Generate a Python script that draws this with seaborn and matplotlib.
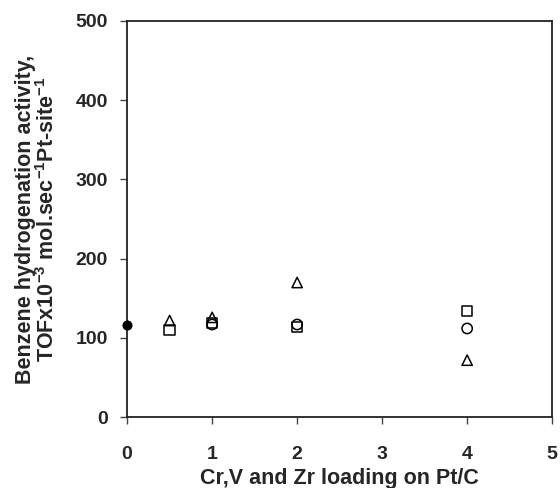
import matplotlib
matplotlib.use("Agg")
import matplotlib.pyplot as plt
import seaborn as sns
import pandas as pd

sns.set_style("ticks")
plt.rcParams['font.family'] = ['Liberation Sans', 'DejaVu Sans']
plt.rcParams['font.weight'] = 'bold'
plt.rcParams['mathtext.fontset'] = 'custom'
plt.rcParams['mathtext.rm'] = 'Liberation Sans:bold'
plt.rcParams['mathtext.default'] = 'rm'

# Data
ref_x = [0]
ref_y = [117]

sq_x = [0.5, 1, 2, 4]
sq_y = [110, 119, 114, 134]

ci_x = [1, 2, 4]
ci_y = [117, 117, 112]

tr_x = [0.5, 1, 2, 4]
tr_y = [122, 126, 170, 72]

x_ticks = [0, 1, 2, 3, 4, 5]
y_ticks = [0, 100, 200, 300, 400, 500]

fig = plt.figure(figsize=(5.6, 4.88), dpi=100)
ax = fig.add_axes([0.227, 0.145, 0.759, 0.812])

def draw(xs, ys, marker, size, filled=False):
    df = pd.DataFrame({"x": xs, "y": ys})
    before = len(ax.collections)
    sns.scatterplot(data=df, x="x", y="y", marker=marker, s=size, ax=ax,
                    color="black", edgecolor="black", linewidth=1.1,
                    clip_on=False, zorder=5)
    for c in ax.collections[before:]:
        if not filled:
            c.set_facecolor("none")
        c.set_edgecolor("black")

draw(sq_x, sq_y, "s", 55)
draw(ci_x, ci_y, "o", 55)
draw(tr_x, tr_y, "^", 55)
draw(ref_x, ref_y, "o", 38, filled=True)

ax.set_xlim(0, 5)
ax.set_ylim(0, 500)
ax.set_xticks(x_ticks)
ax.set_yticks(y_ticks)
ax.set_xticklabels([str(v) for v in x_ticks], fontsize=14, fontweight='bold')
ax.set_yticklabels([str(v) for v in y_ticks], fontsize=14, fontweight='bold')
ax.tick_params(axis='x', direction='out', length=5, width=1, color='#444444', pad=16)
ax.tick_params(axis='y', direction='out', length=5, width=1, color='#444444', pad=9)

for s in ax.spines.values():
    s.set_linewidth(1.3)
    s.set_color('#222222')

ax.set_xlabel("Cr,V and Zr loading on Pt/C", fontsize=15.5, fontweight='bold', labelpad=3)
ax.set_ylabel("Benzene hydrogenation activity,\nTOFx10$^{-3}$ mol.sec$^{-1}$Pt-site$^{-1}$",
              fontsize=15.5, fontweight='bold', labelpad=12, linespacing=1.0)

fig.savefig("out.png", dpi=100)
